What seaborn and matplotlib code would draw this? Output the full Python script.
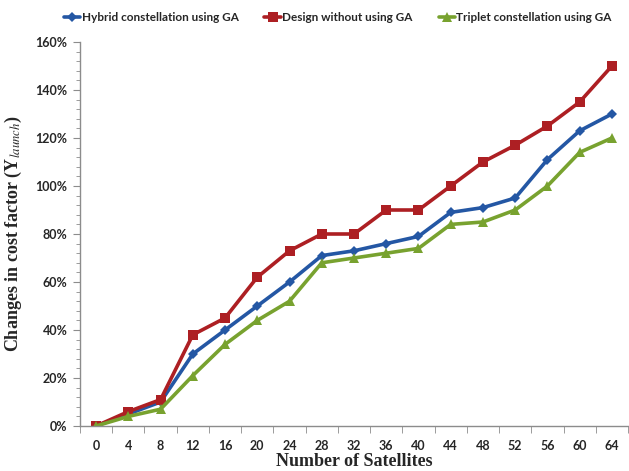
import matplotlib
matplotlib.use("Agg")
import numpy as np
import pandas as pd
import matplotlib.pyplot as plt
import seaborn as sb
from matplotlib.ticker import FixedLocator, FuncFormatter, MultipleLocator
from matplotlib.lines import Line2D

# Datos
satelites = [0, 4, 8, 12, 16, 20, 24, 28, 32, 36, 40, 44, 48, 52, 56, 60, 64]
hibrida = [0, 5, 10, 30, 40, 50, 60, 71, 73, 76, 79, 89, 91, 95, 111, 123, 130]
sin_ga = [0, 6, 11, 38, 45, 62, 73, 80, 80, 90, 90, 100, 110, 117, 125, 135, 150]
triplete = [0, 4, 7, 21, 34, 44, 52, 68, 70, 72, 74, 84, 85, 90, 100, 114, 120]
series = ["Hybrid constellation using GA", "Design without using GA", "Triplet constellation using GA"]
colores = ["#2457A4", "#AD1F23", "#78A22F"]
marcadores = ["D", "s", "^"]
tamanos = [5, 7, 7]

sb.set_style("white")
plt.rcParams['font.family'] = ['Lato', 'DejaVu Sans']
plt.rcParams['mathtext.fontset'] = 'stix'

df = pd.DataFrame({
    "pos": list(range(len(satelites))) * 3,
    "valor": hibrida + sin_ga + triplete,
    "serie": [series[0]] * len(satelites) + [series[1]] * len(satelites) + [series[2]] * len(satelites),
})

fig = plt.figure(figsize=(6.29, 4.71), dpi=100)
ax = fig.add_axes([80 / 629, 1 - 426 / 471, 548 / 629, 384 / 471])

sb.lineplot(data=df, x="pos", y="valor", hue="serie", hue_order=series,
            palette=colores, style="serie", style_order=series, markers=marcadores,
            dashes=False, linewidth=2.6, markersize=7, markeredgewidth=0,
            ax=ax, legend=False)
# tamaños individuales de marcador
for linea, m in zip(ax.get_lines(), tamanos):
    linea.set_markersize(m)

ax.set_xlim(-0.5, len(satelites) - 0.5)
ax.set_ylim(0, 160)
ax.set_xticks(range(len(satelites)))
ax.set_xticklabels([str(s) for s in satelites])
ax.xaxis.set_minor_locator(FixedLocator(np.arange(-0.5, len(satelites), 1)))
ax.yaxis.set_major_locator(MultipleLocator(20))
ax.yaxis.set_minor_locator(MultipleLocator(4))
ax.yaxis.set_major_formatter(FuncFormatter(lambda v, p: "%d%%" % v))

ax.tick_params(axis="x", which="major", length=0, pad=10, labelsize=9)
ax.tick_params(axis="x", which="minor", length=5, color="#8c8c8c", direction="out", bottom=True)
ax.tick_params(axis="y", which="major", length=5, color="#8c8c8c", direction="out", left=True, labelsize=9, pad=4)
ax.tick_params(axis="y", which="minor", length=3, color="#8c8c8c", direction="out", left=True)
for lab in ax.get_xticklabels() + ax.get_yticklabels():
    lab.set_fontweight("bold")

for lado in ["top", "right"]:
    ax.spines[lado].set_visible(False)
for lado in ["left", "bottom"]:
    ax.spines[lado].set_color("#8c8c8c")
    ax.spines[lado].set_linewidth(1.0)

ax.set_xlabel("Number of Satellites", family="Liberation Serif", fontweight="bold", fontsize=13, labelpad=1)
ax.set_ylabel(r"Changes in cost factor (Y$_{\mathit{launch}}$)", family="Liberation Serif",
              fontweight="bold", fontsize=13, labelpad=8)

# leyenda arriba
manijas = [Line2D([0], [0], color=c, marker=m, markersize=t, markeredgewidth=0, linewidth=2.6)
           for c, m, t in zip(colores, marcadores, tamanos)]
fig.legend(manijas, series, loc="center", bbox_to_anchor=(0.537, 0.962), ncol=3, frameon=False,
           prop={"weight": "bold", "size": 8.5}, handlelength=1.4, handletextpad=0.1, columnspacing=2.2)

plt.savefig("out.png", dpi=100)
